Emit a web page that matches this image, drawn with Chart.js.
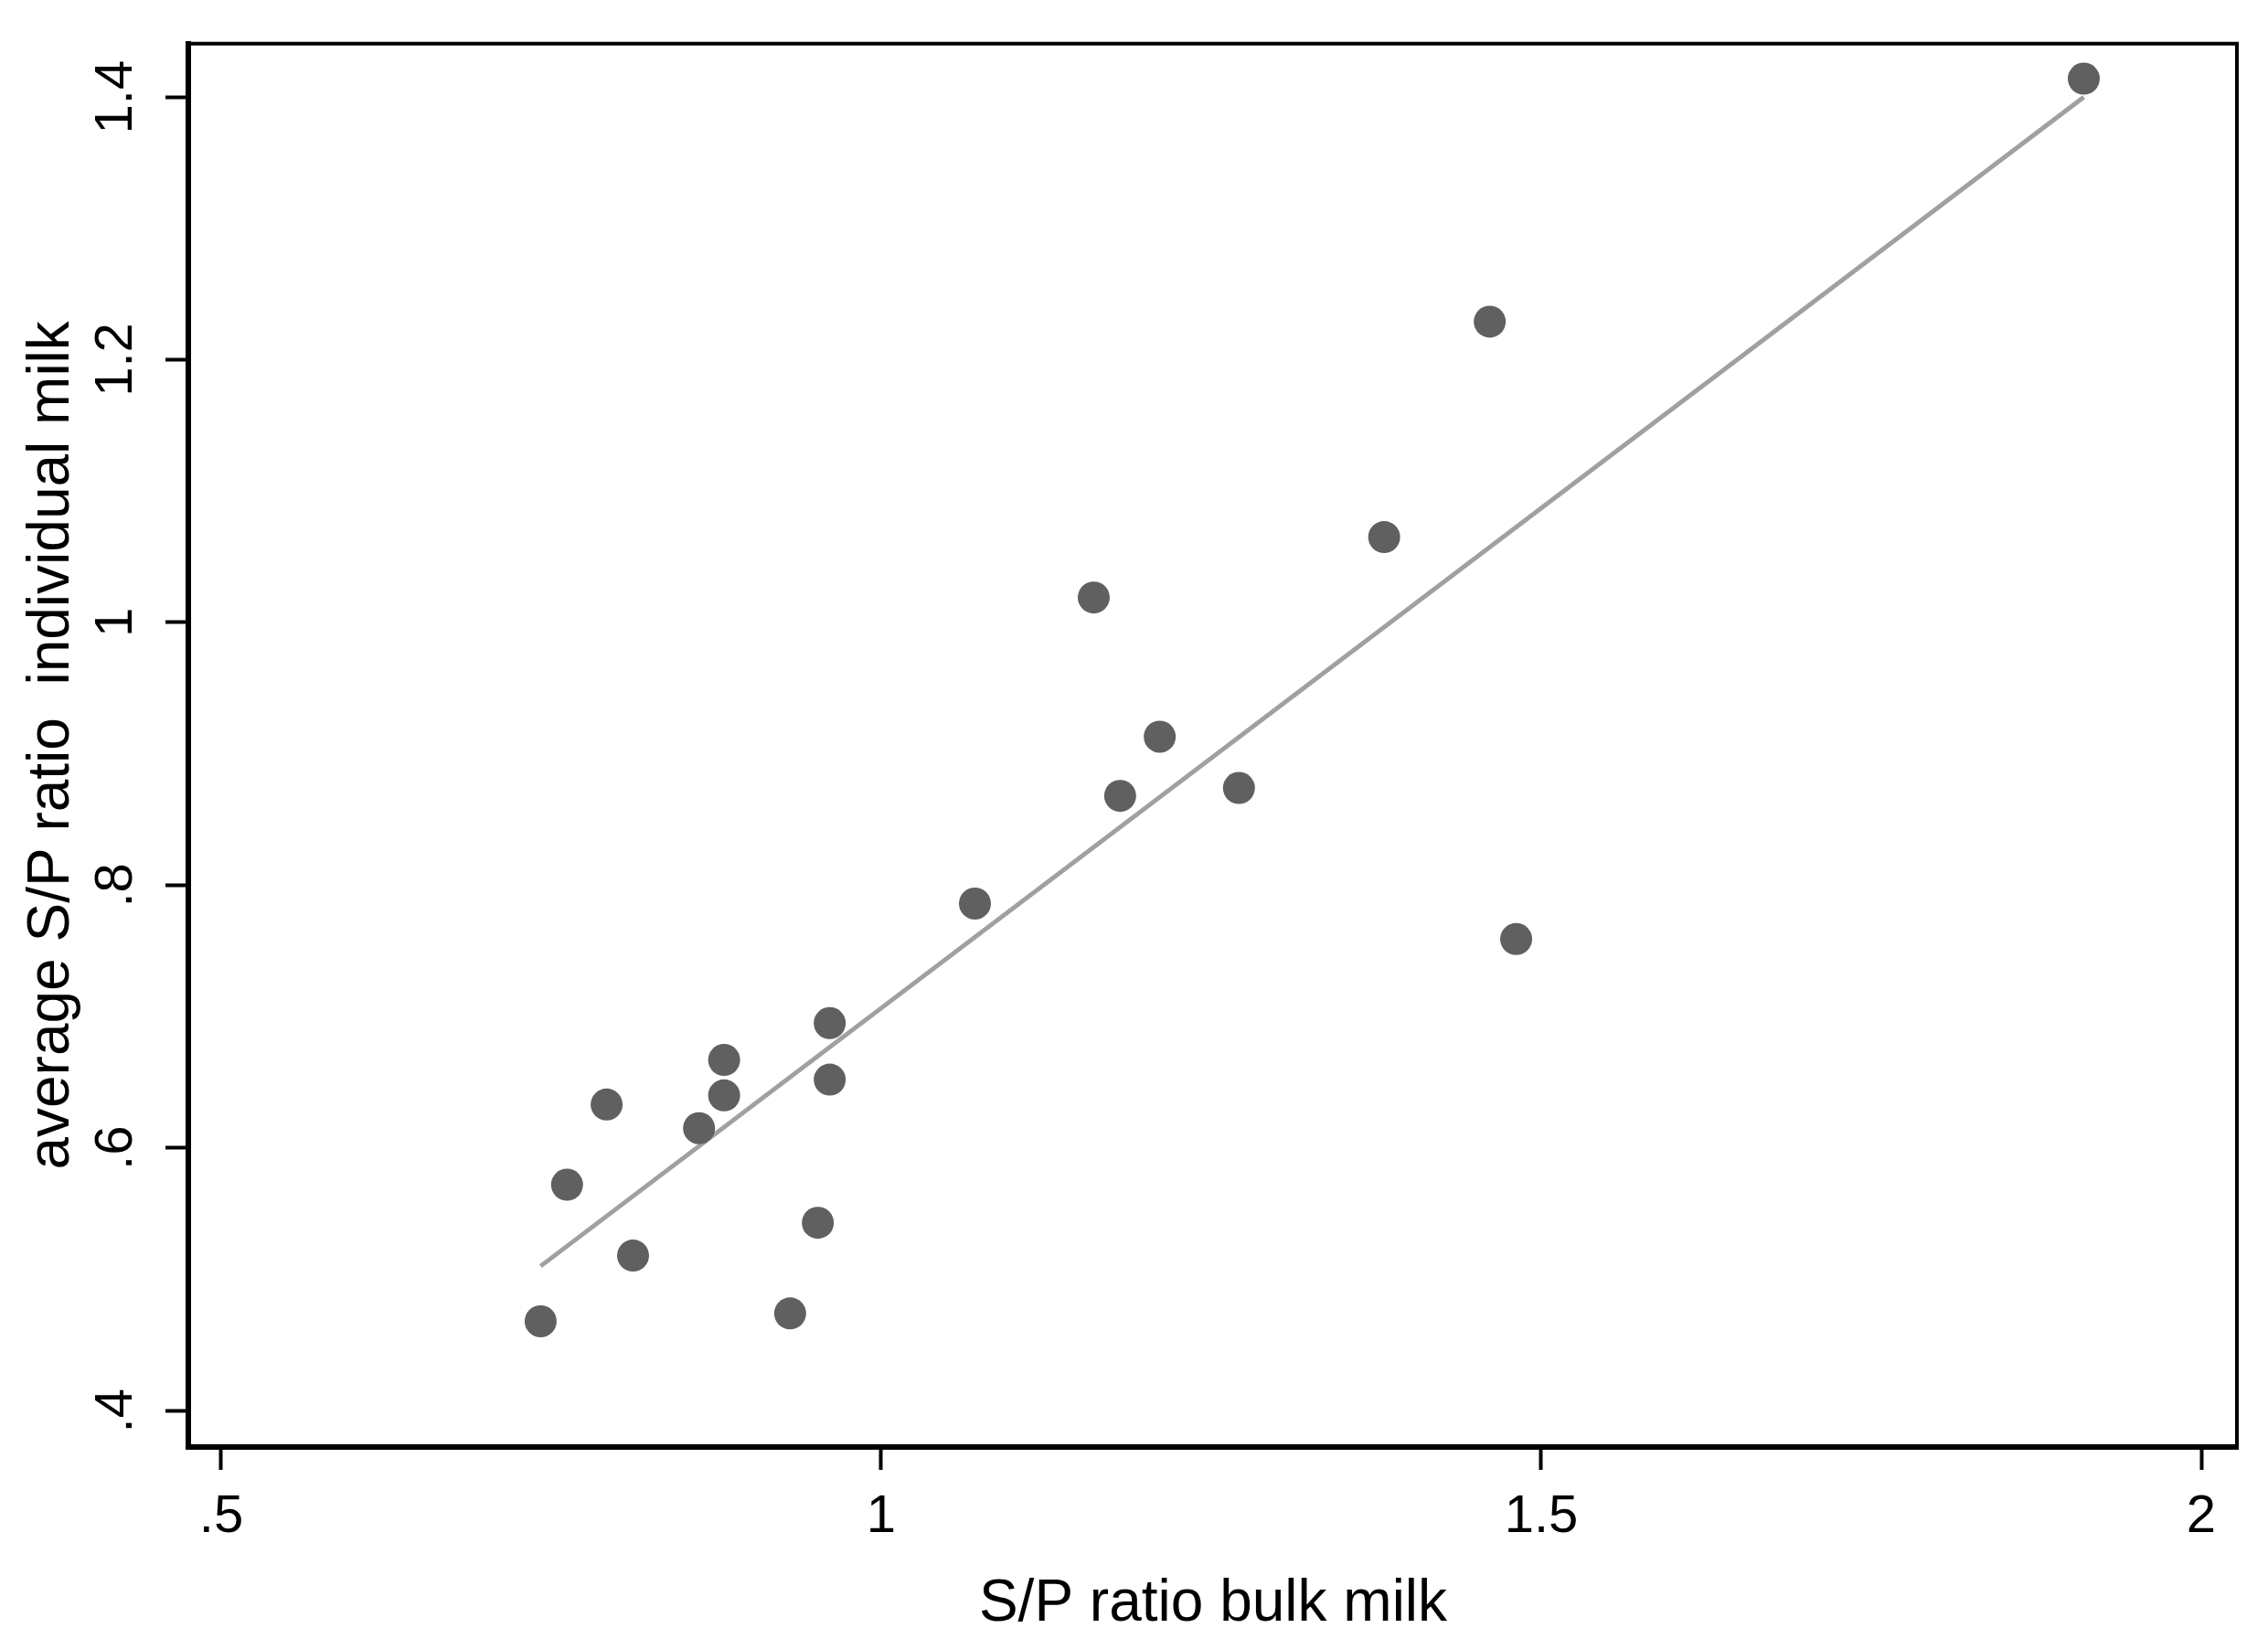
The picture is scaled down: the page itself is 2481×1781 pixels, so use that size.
<!DOCTYPE html>
<html>
<head>
<meta charset="utf-8">
<script src="https://cdn.jsdelivr.net/npm/chart.js@4/dist/chart.umd.min.js"></script>
<style>
  html, body { margin: 0; padding: 0; background: #fff; }
  #wrap { width: 2481px; height: 1781px; }
</style>
</head>
<body>
<div id="wrap"><canvas id="myChart" width="2481" height="1781"></canvas></div>
<script>
// data

const bulkX = [0.742, 0.762, 0.792, 0.812, 0.862, 0.881, 0.881, 0.931, 0.952, 0.961,
               0.961, 1.071, 1.161, 1.181, 1.211, 1.271, 1.381, 1.461, 1.481, 1.911];
const indivY = [0.468, 0.572, 0.633, 0.518, 0.615, 0.640, 0.667, 0.474, 0.543, 0.652,
                0.695, 0.786, 1.019, 0.868, 0.913, 0.874, 1.065, 1.229, 0.759, 1.414];

// fitted line end points
const fitX = [0.742, 1.911];
const fitY = [0.510, 1.400];

const xTicks = [0.5, 1, 1.5, 2];
const xTickLabels = ['.5', '1', '1.5', '2'];
const yTicks = [0.4, 0.6, 0.8, 1, 1.2, 1.4];
const yTickLabels = ['.4', '.6', '.8', '1', '1.2', '1.4'];

const xTitle = 'S/P ratio bulk milk';
const yTitle = 'average S/P ratio  individual milk';

const points = bulkX.map((x, i) => ({x: x, y: indivY[i]}));
const fitLine = fitX.map((x, i) => ({x: x, y: fitY[i]}));

// frame on top and right of the plot region
const framePlugin = {
    id: 'frame',
    afterDraw(chart) {
        const {ctx, chartArea} = chart;
        ctx.save();
        ctx.strokeStyle = '#000';
        ctx.lineWidth = 4;
        ctx.beginPath();
        ctx.moveTo(chartArea.left, chartArea.top);
        ctx.lineTo(chartArea.right - 1, chartArea.top);
        ctx.lineTo(chartArea.right - 1, chartArea.bottom);
        ctx.stroke();
        ctx.restore();
    }
};

const tickFont = {family: 'Liberation Sans', size: 58, lineHeight: 1.2};
const titleFont = {family: 'Liberation Sans', size: 64, lineHeight: 0.8};

const ctx = document.getElementById('myChart').getContext('2d');
const chart = new Chart(ctx, {
    type: 'scatter',
    data: {
        datasets: [{
            label: 'individual',
            data: points,
            backgroundColor: '#606060',
            borderWidth: 0,
            pointRadius: 17.5,
            pointHoverRadius: 17.5
        }, {
            type: 'line',
            label: 'fit',
            data: fitLine,
            borderColor: '#a0a0a0',
            borderWidth: 5,
            pointRadius: 0,
            fill: false,
            tension: 0
        }]
    },
    options: {
        responsive: false,
        devicePixelRatio: 1,
        animation: false,
        events: [],
        layout: {padding: {top: 42, right: 33, bottom: 0, left: 0}},
        plugins: {
            legend: {display: false},
            tooltip: {enabled: false}
        },
        scales: {
            x: {
                type: 'linear',
                min: 0.4751,
                max: 2.0277,
                afterBuildTicks: s => { s.ticks = xTicks.map(v => ({value: v})); },
                afterFit: s => { s.height = 198; },
                grid: {drawOnChartArea: false, tickLength: 25, tickWidth: 4, tickColor: '#000'},
                border: {display: true, color: '#000', width: 6},
                ticks: {
                    color: '#000',
                    font: tickFont,
                    padding: 17,
                    maxRotation: 0,
                    callback: (v) => xTickLabels[xTicks.indexOf(v)]
                },
                title: {
                    display: true,
                    text: xTitle,
                    color: '#000',
                    font: titleFont,
                    padding: {top: 0, bottom: 0}
                }
            },
            y: {
                type: 'linear',
                min: 0.3723,
                max: 1.4406,
                afterBuildTicks: s => { s.ticks = yTicks.map(v => ({value: v})); },
                afterFit: s => { s.width = 206; },
                grid: {drawOnChartArea: false, tickLength: 25, tickWidth: 4, tickColor: '#000'},
                border: {display: true, color: '#000', width: 6},
                ticks: {
                    color: '#000',
                    font: tickFont,
                    padding: 13,
                    minRotation: 90,
                    maxRotation: 90,
                    crossAlign: 'center',
                    callback: (v) => yTickLabels[yTicks.indexOf(v)]
                },
                title: {
                    display: true,
                    text: yTitle,
                    color: '#000',
                    font: titleFont,
                    padding: {top: 32, bottom: 0}
                }
            }
        }
    },
    plugins: [framePlugin]
});
</script>
</body>
</html>
